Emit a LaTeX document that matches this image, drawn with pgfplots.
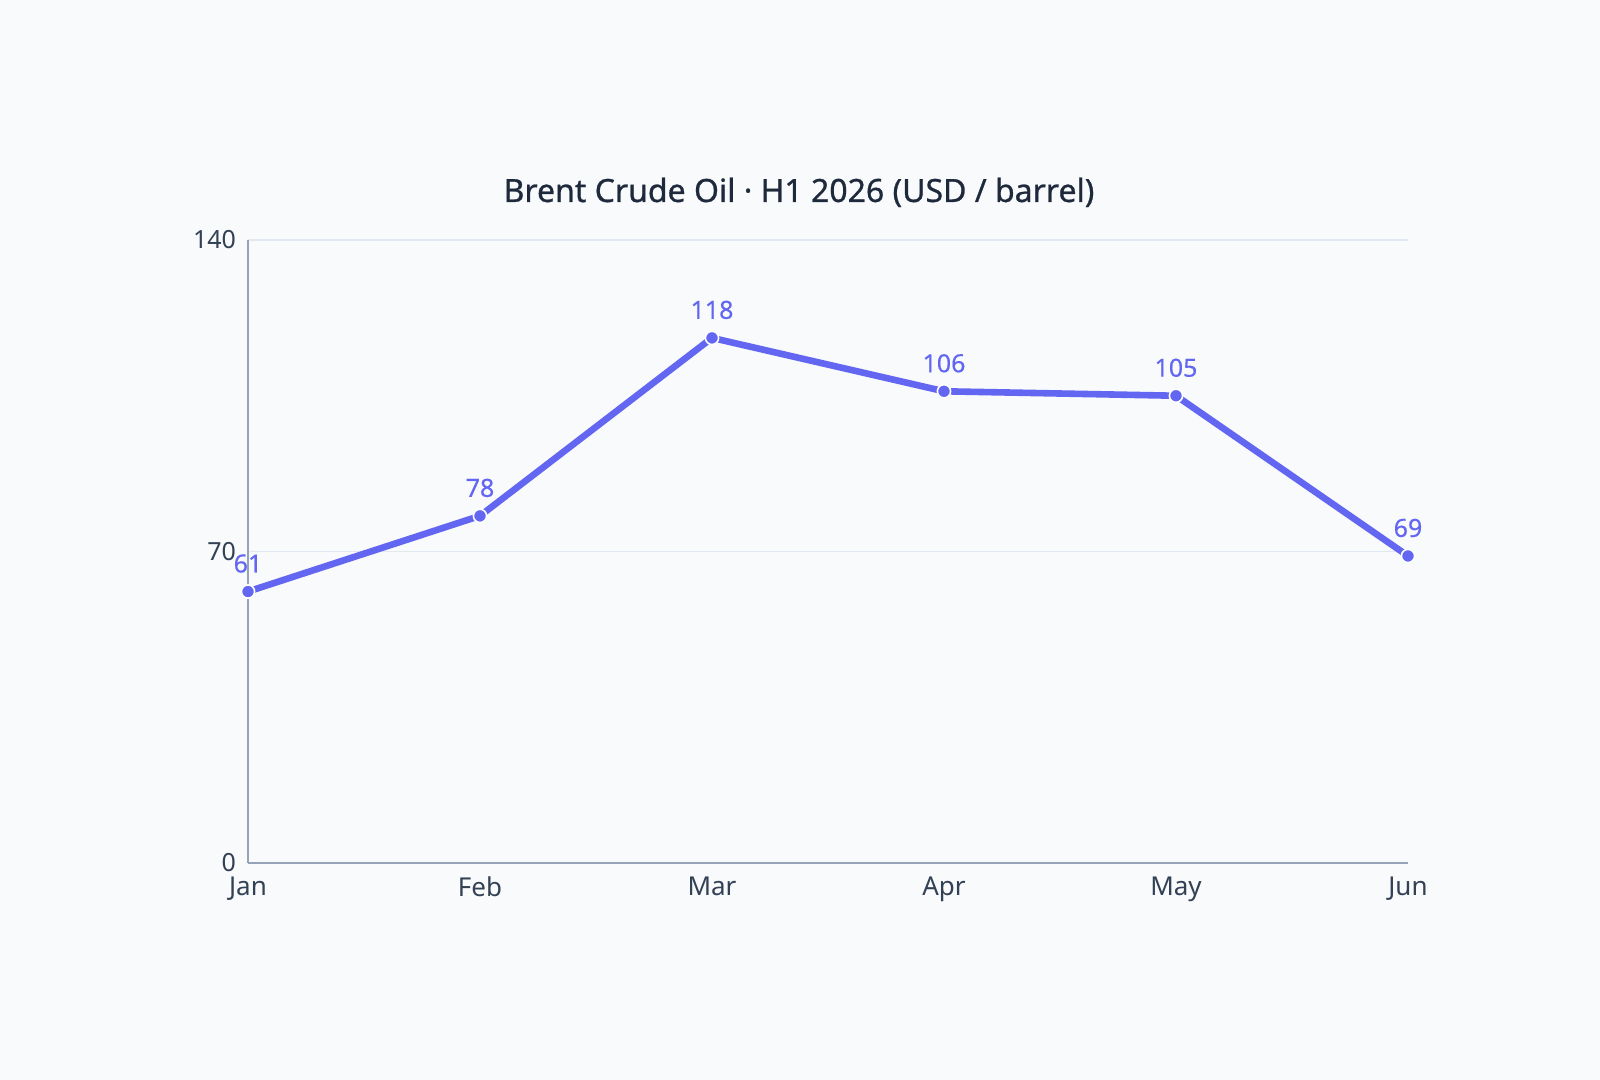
\documentclass[border=0pt]{standalone}
\usepackage{pgfplots}
\pgfplotsset{compat=1.18}
\usepackage{fontspec}
\setmainfont{Noto Sans}
\newfontfamily\medfont{Noto Sans}[FakeBold=0.8]
\newfontfamily\lblfont{Noto Sans}[FakeBold=0.4]
\definecolor{bg}{HTML}{F8FAFC}
\definecolor{indigo}{HTML}{6366F1}
\definecolor{axisc}{HTML}{94A3B8}
\definecolor{gridc}{HTML}{E2E8F0}
\definecolor{tickc}{HTML}{334155}
\definecolor{titlec}{HTML}{1E293B}
\begin{document}
\begin{tikzpicture}[x=1pt,y=1pt]
\fill[bg] (0,0) rectangle (800,540);
\path[use as bounding box] (0,0) rectangle (800,540);
\node[anchor=base, text=titlec, font=\medfont\fontsize{16}{19}\selectfont] at (399.5,439) {Brent Crude Oil · H1 2026 (USD / barrel)};
\begin{axis}[
  at={(124pt,108.5pt)}, anchor=south west,
  scale only axis, width=580pt, height=311.5pt,
  xmin=0, xmax=5, ymin=0, ymax=140,
  axis x line*=bottom, axis y line*=left,
  axis line style={-, color=axisc, line width=1.1pt},
  xtick={0,1,2,3,4,5},
  xticklabels={Jan,Feb,Mar,Apr,May,Jun},
  ytick={0,70,140},
  ymajorgrids, grid style={color=gridc, line width=0.6pt},
  major tick length=0pt,
  /pgf/number format/assume math mode=true,
  tick label style={font=\fontsize{12.5}{15}\selectfont, text=tickc},
  xticklabel style={yshift=-3.5pt, font=\fontsize{13}{15}\selectfont},
  yticklabel style={xshift=-2.5pt},
  clip=false,
]
\addplot[color=indigo, line width=3.3pt, mark=*, mark size=3.3pt,
  mark options={fill=indigo, draw=white, line width=0.8pt},
  nodes near coords,
  nodes near coords style={anchor=south, yshift=9pt, inner sep=0pt, text=indigo, font=\lblfont\fontsize{12.5}{15}\selectfont},
  /pgf/number format/assume math mode=true]
  coordinates {(0,61) (1,78) (2,118) (3,106) (4,105) (5,69)};
\end{axis}
\end{tikzpicture}
\end{document}
